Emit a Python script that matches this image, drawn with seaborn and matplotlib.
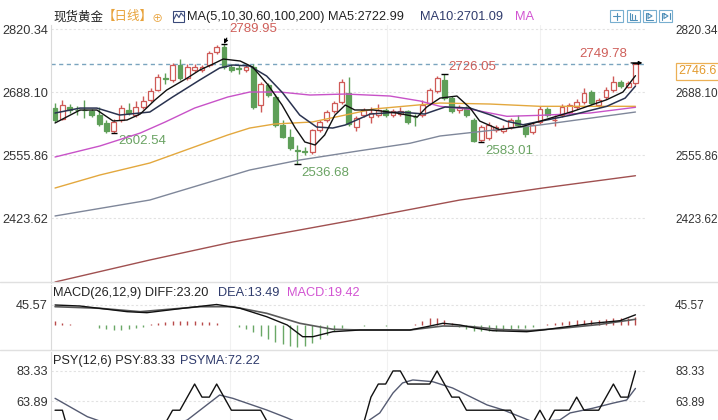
import numpy as np
import matplotlib
matplotlib.use("Agg")
import matplotlib.pyplot as plt
from matplotlib.lines import Line2D
from matplotlib.patches import Rectangle
import seaborn as sns

# ---------------- daily candles (spot gold) ----------------
opens = [2656, 2633, 2657, 2651, 2651, 2649, 2640, 2624, 2606, 2630,
         2651, 2640, 2658, 2672, 2693, 2719, 2714, 2745, 2718, 2735,
         2735, 2745, 2772, 2784, 2742, 2739, 2735, 2742, 2661, 2703,
         2679, 2620, 2595, 2568, 2565, 2563, 2609, 2630, 2649, 2668,
         2686, 2616, 2640, 2636, 2640, 2651, 2641, 2642, 2648, 2637,
         2640, 2665, 2690, 2714, 2676, 2651, 2655, 2630, 2587, 2592,
         2609, 2607, 2616, 2631, 2617, 2605, 2626, 2654, 2630, 2640,
         2647, 2658, 2668, 2689, 2662, 2679, 2693, 2710, 2700, 2707]
highs = [2666, 2672, 2664, 2660, 2672, 2654, 2658, 2630, 2632, 2661,
         2666, 2670, 2680, 2698, 2726, 2728, 2750, 2758, 2748, 2748,
         2746, 2775, 2788, 2789.95, 2748, 2745, 2746, 2748, 2710, 2708,
         2684, 2630, 2612, 2577, 2573, 2612, 2630, 2652, 2670, 2715,
         2720, 2638, 2656, 2657, 2663, 2655, 2653, 2657, 2652, 2643,
         2672, 2698, 2723, 2726.05, 2680, 2662, 2660, 2634, 2620, 2625,
         2620, 2620, 2634, 2640, 2620, 2624, 2660, 2658, 2641, 2663,
         2666, 2674, 2697, 2694, 2677, 2700, 2722, 2714, 2712, 2749.78]
lows = [2626, 2630, 2645, 2641, 2634, 2636, 2617, 2603, 2602.54, 2626,
        2640, 2636, 2654, 2668, 2690, 2705, 2710, 2714, 2714, 2730,
        2731, 2742, 2769, 2738, 2730, 2727, 2730, 2654, 2647, 2678,
        2616, 2592, 2567, 2536.68, 2556, 2559, 2605, 2626, 2645, 2664,
        2618, 2606, 2636, 2624, 2636, 2636, 2637, 2638, 2622, 2618,
        2636, 2661, 2686, 2672, 2644, 2645, 2636, 2584, 2583.01, 2588,
        2604, 2603, 2612, 2615, 2594, 2600, 2622, 2636, 2617, 2636,
        2643, 2654, 2664, 2661, 2658, 2675, 2689, 2697, 2697, 2703]
closes = [2630, 2661, 2651, 2650, 2650, 2640, 2621, 2606, 2626, 2656,
          2644, 2658, 2670, 2690, 2721, 2716, 2745, 2718, 2741, 2741,
          2741, 2770, 2784, 2742, 2735, 2738, 2741, 2658, 2705, 2682,
          2620, 2595, 2571, 2565, 2562, 2609, 2625, 2647, 2665, 2710,
          2622, 2634, 2651, 2645, 2651, 2641, 2648, 2648, 2626, 2636,
          2661, 2693, 2718, 2676, 2648, 2657, 2640, 2585, 2616, 2619,
          2616, 2614, 2630, 2619, 2600, 2619, 2654, 2640, 2631, 2658,
          2661, 2668, 2686, 2665, 2672, 2694, 2710, 2701, 2707, 2746.6]

# ---------------- moving averages (day position, value) ----------------
ma5_x = [0, 3.4, 5.7, 7.9, 9.8, 11.6, 13.6, 15.2, 18, 19.7, 21.5, 22.9, 25.2, 26.9,
         29, 30.9, 32.7, 34, 35.4, 36.7, 38.1, 39.5, 40.8, 43.3, 46.5, 49.3, 50.6,
         52.4, 54.7, 56.5, 57.8, 60.5, 63.7, 66, 70.5, 75.1, 77.3, 79]
ma5_v = [2623.7, 2650.9, 2650.9, 2627.9, 2630.0, 2642.6, 2672.0, 2692.9, 2718.1, 2734.9,
         2747.5, 2758.0, 2753.8, 2741.2, 2703.4, 2661.4, 2613.1, 2583.8, 2577.5, 2598.5,
         2640.4, 2661.4, 2651.0, 2651.0, 2644.6, 2636.3, 2657.3, 2676.0, 2680.3, 2655.1,
         2627.8, 2609.6, 2616.7, 2627.3, 2648.2, 2672.6, 2688.7, 2722.99]

ma10_x = [0, 3.4, 5.7, 8.8, 12.9, 16, 19.7, 22.4, 24.2, 26.5, 28.8, 31, 33.3, 35.6,
          37.8, 39.5, 42.9, 46.9, 50.3, 53.1, 56.5, 59.2, 61.5, 63.7, 66, 70.5, 75.1,
          77.6, 79]
ma10_v = [2644.6, 2655.0, 2655.0, 2640.4, 2646.7, 2678.2, 2714.0, 2739.1, 2745.4, 2743.3,
          2722.3, 2686.6, 2640.4, 2615.3, 2613.1, 2619.5, 2642.5, 2646.7, 2642.5, 2657.3,
          2655.0, 2641.0, 2627.2, 2620.0, 2627.2, 2641.0, 2658.7, 2676.0, 2701.09]

ma30_x = [0, 6.1, 11.6, 15, 19, 23.5, 26.5, 30.6, 34.7, 39.5, 45.6, 49.7, 52.4, 56.9,
          61.5, 66, 72.8, 79]
ma30_v = [2552.3, 2575.4, 2602.6, 2625.8, 2655.1, 2678.2, 2688.7, 2688.7, 2682.4, 2684.5,
          2680.3, 2669.8, 2658.7, 2651.6, 2637.7, 2639.8, 2644.6, 2656.6]

ma60_x = [0, 6.1, 12.9, 19.7, 23.5, 26.5, 29.9, 35, 39.5, 43.3, 52.4, 59.2, 66, 79]
ma60_v = [2487.2, 2514.5, 2539.7, 2577.5, 2598.5, 2613.1, 2621.6, 2625.8, 2640.4, 2653.0,
          2665.6, 2663.5, 2658.7, 2658.7]

ma100_x = [0, 12.9, 19.7, 26.5, 33.3, 41.5, 48.3, 52.4, 66, 79]
ma100_v = [2428.5, 2462.0, 2493.5, 2525.0, 2546.0, 2565.5, 2581.1, 2596.4, 2619.5, 2646.7]

ma200_x = [0, 12.9, 24.2, 33.3, 41.5, 55.1, 66.4, 79]
ma200_v = [2289.9, 2336.1, 2373.9, 2399.1, 2422.2, 2462.0, 2487.2, 2513.0]

# ---------------- MACD(26,12,9) ----------------
diff_x = [0, 3.4, 9.8, 12.5, 17.4, 22, 25.2, 28.8, 31.6, 33.7, 35.1, 37.8, 41.5, 45.6,
          48.3, 50.6, 52.8, 55.1, 57.4, 59.6, 64.2, 66.4, 69.7, 73.2, 76.9, 79]
diff_v = [44.5, 42.3, 30.0, 27.8, 37.3, 45.57, 37.3, 19.1, 1.1, -24.3, -24.3, -13.5, -9.8,
          -9.8, -9.8, -2.6, 4.8, 1.1, -6.1, -11.3, -13.5, -9.8, -2.6, 4.8, 10.4, 23.20]
dea_x = [0, 6.1, 11.6, 19.7, 24.2, 28.8, 33.3, 37.8, 41.5, 48.3, 52.8, 56.5, 60.5, 64.6,
         68.7, 74.1, 79]
dea_v = [40.8, 37.3, 30.0, 40.8, 40.8, 26.5, 4.8, -8.2, -9.8, -9.8, -1.1, -2.2, -8.7,
         -10.9, -6.5, 2.2, 13.49]
macd_hist = [10, 6, 4, 1, 1, 0.5, -6, -8, -10, -10,
             -8, -6, -3, 4, 6, 8, 9, 10, 10, 9,
             8, 8, 6, 2, 1, -3, -8, -15, -22, -29,
             -35, -41, -45, -47, -44, -38, -30, -21, -12, -5,
             2, 1, -1, 1, 1, -1, 1, 1, 2, 4,
             10, 16, 17, 12, 6, -3, -7, -11, -13, -13,
             -12, -10, -8, -6, -5, -3, 2, 4, 5, 7,
             9, 11, 13, 13, 13, 14, 16, 17, 17, 19.42]

# ---------------- PSY(12,6) ----------------
psy = [58.33, 58.33, 41.67, 41.67, 33.33, 33.33, 33.33, 25.0, 25.0, 33.33,
       33.33, 41.67, 41.67, 41.67, 41.67, 50.0, 58.33, 58.33, 66.67, 75.0,
       66.67, 66.67, 75.0, 66.67, 58.33, 58.33, 58.33, 58.33, 58.33, 50.0,
       41.67, 41.67, 33.33, 33.33, 33.33, 33.33, 41.67, 41.67, 41.67, 41.67,
       41.67, 41.67, 50.0, 66.67, 75.0, 75.0, 83.33, 83.33, 75.0, 75.0,
       75.0, 75.0, 83.33, 75.0, 66.67, 66.67, 58.33, 58.33, 58.33, 58.33,
       58.33, 58.33, 58.33, 50.0, 50.0, 50.0, 58.33, 50.0, 58.33, 58.33,
       58.33, 66.67, 58.33, 58.33, 58.33, 66.67, 75.0, 66.67, 66.67, 83.33]
psyma_x = [0, 4.4, 8.8, 14.3, 18, 22.4, 24.2, 28.8, 31.6, 36, 40.8, 44.2, 46, 47.3, 48.7,
           51.4, 54.1, 56.5, 58.8, 61, 63.3, 65, 68.7, 70.1, 73.2, 75.9, 77.8, 79]
psyma_v = [65.9, 54.2, 47.0, 45.7, 52.1, 68.0, 65.9, 58.5, 53.4, 44.4, 45.7, 56.6, 69.3,
           75.7, 77.6, 76.5, 72.5, 67.0, 61.7, 58.5, 54.2, 51.0, 52.1, 56.6, 59.6, 62.8,
           64.8, 72.22]

# axis ticks and marked extremes
price_ticks = [2820.34, 2688.10, 2555.86, 2423.62]
macd_ticks = [45.57]
psy_ticks = [83.33, 63.89]
period_marks = [23.8, 45.2, 66.0]
high_marks = [23, 53, 79]
low_marks = [8, 33, 58]

# ---------------- style ----------------
sns.set_theme(style="white")
plt.rcParams["font.family"] = ["Liberation Sans", "Noto Sans CJK SC", "DejaVu Sans"]
plt.rcParams["font.size"] = 9

UP, DOWN = "#cf5a57", "#5e9f58"
TXT = "#333333"
NAVY = "#2f3b6c"
MAGENTA = "#d254d2"

W, H = 718, 420
fig = plt.figure(figsize=(W / 100, H / 100), dpi=100)
fig.patch.set_facecolor("white")
X0, X1 = 51, 645


def px(x, y):
    return x / W, 1 - y / H


def panel(top, bottom):
    return fig.add_axes([X0 / W, 1 - bottom / H, (X1 - X0) / W, (bottom - top) / H])


ax = panel(25, 283)
axm = panel(285, 350)
axp = panel(352, 420)


def style(a, ticks, ylim):
    a.set_facecolor("white")
    a.set_xlim(-0.55, 80.3)
    a.set_ylim(*ylim)
    a.set_xticks([])
    a.set_xlabel("")
    a.set_ylabel("")
    labels = [f"{t:.2f}" for t in ticks]
    a.set_yticks(ticks)
    a.set_yticklabels(labels)
    a.tick_params(axis="y", length=0, pad=2.2, labelsize=9.2, labelcolor=TXT)
    for s in ("top", "right", "bottom"):
        a.spines[s].set_visible(False)
    a.spines["left"].set_color("#dadada")
    a.spines["left"].set_linewidth(0.8)
    a.set_axisbelow(True)
    a.grid(axis="y", color="#e2e2e2", ls=(0, (2, 2)), lw=0.8)
    for m in period_marks:
        a.axvline(m, color="#f1f1f1", lw=0.8, zorder=0)
    sec = a.secondary_yaxis("right")
    sec.set_yticks(ticks)
    sec.set_yticklabels(labels)
    sec.tick_params(length=0, pad=21.6, labelsize=8.5, labelcolor=TXT)
    sec.spines["right"].set_visible(False)


# ---------------- candles ----------------
o, h, l, c = (np.array(v, dtype=float) for v in (opens, highs, lows, closes))
idx = np.arange(len(c))
up = c >= o
edge = np.where(up, UP, DOWN)
ax.vlines(idx, l, h, colors=edge, lw=1, zorder=2)
ax.bar(idx, np.maximum(np.abs(c - o), 0.6), bottom=np.minimum(o, c), width=0.66,
       color=np.where(up, "white", DOWN), edgecolor=edge, linewidth=0.9, zorder=3)

# moving averages
for xs, vs, col, lw in [(ma200_x, ma200_v, "#a05050", 1.0),
                        (ma100_x, ma100_v, "#7f879a", 1.0),
                        (ma60_x, ma60_v, "#e3a83e", 1.0),
                        (ma30_x, ma30_v, "#c852c8", 1.0),
                        (ma10_x, ma10_v, "#2a3350", 1.1),
                        (ma5_x, ma5_v, "#111111", 1.0)]:
    sns.lineplot(x=xs, y=vs, ax=ax, color=col, linewidth=lw, legend=False,
                 sort=False, estimator=None, zorder=4)

# last price line and box
last = closes[-1]
ax.axhline(last, color="#7aa4be", ls=(0, (3, 2.5)), lw=1, zorder=1)
ax.annotate(f"{last:.1f}", xy=(1, last), xycoords=("axes fraction", "data"),
            xytext=(33, -1), textcoords="offset pixels", ha="left", va="top",
            color="#e39a2d", fontsize=9, annotation_clip=False,
            bbox=dict(boxstyle="square,pad=0.2", fc="white", ec="#ecb055", lw=0.9))

# extreme markers
label_offsets = {23: (5, 15), 53: (4, 7), 79: (-8, 9), 8: (4, -8), 33: (4, -9), 58: (4, -9)}
for i in high_marks:
    v = highs[i]
    ax.hlines(v, i - 0.45, i + 0.45, color="black", lw=1, zorder=5)
    dx, dy = label_offsets[i]
    if i == 23:
        ax.annotate(f"{v:.2f}", xy=(i, v), xytext=(dx, dy), textcoords="offset pixels",
                    ha="left", va="center", color="#cf5f5a", fontsize=9.5,
                    arrowprops=dict(arrowstyle="-|>", color="black", lw=0.8,
                                    mutation_scale=6, relpos=(0, 0.1),
                                    shrinkA=0, shrinkB=0))
    else:
        ax.annotate(f"{v:.2f}", xy=(i, v), xytext=(dx, dy), textcoords="offset pixels",
                    ha="right" if dx < 0 else "left", va="center",
                    color="#cf5f5a", fontsize=9.5)
    if i == len(highs) - 1:
        ax.annotate("", xy=(i + 0.95, v), xytext=(i - 0.6, v),
                    arrowprops=dict(arrowstyle="-|>", color="black", lw=0.9,
                                    mutation_scale=5, shrinkA=0, shrinkB=0))
for i in low_marks:
    v = lows[i]
    ax.hlines(v, i - 0.45, i + 0.45, color="black", lw=1, zorder=5)
    dx, dy = label_offsets[i]
    ax.annotate(f"{v:.2f}", xy=(i, v), xytext=(dx, dy), textcoords="offset pixels",
                ha="left", va="center", color="#6aa363", fontsize=9.5)

style(ax, price_ticks, (2287.8, 2829.4))

# ---------------- MACD panel ----------------
hist = np.array(macd_hist, dtype=float)
axm.vlines(idx, 0, hist, colors=np.where(hist >= 0, "#b84a4a", "#6aa866"), lw=1, zorder=2)
sns.lineplot(x=dea_x, y=dea_v, ax=axm, color="#5a5a5a", linewidth=1.2, legend=False,
             sort=False, estimator=None, zorder=3)
sns.lineplot(x=diff_x, y=diff_v, ax=axm, color="#111111", linewidth=1.0, legend=False,
             sort=False, estimator=None, zorder=4)
style(axm, macd_ticks, (-53.2, 87.9))

# ---------------- PSY panel ----------------
sns.lineplot(x=psyma_x, y=psyma_v, ax=axp, color="#555b72", linewidth=1.0, legend=False,
             sort=False, estimator=None)
sns.lineplot(x=idx, y=psy, ax=axp, color="#111111", linewidth=1.0, legend=False,
             sort=False, estimator=None)
style(axp, psy_ticks, (52.1, 95.4))

# panel separators
for yy in (282, 350):
    fig.add_artist(Line2D([0, 1], [1 - yy / H] * 2, color="#e0e0e0", lw=1,
                          transform=fig.transFigure))

# ---------------- headers ----------------
def head(x, y, s, color, size=9.2):
    fig.text(*px(x, y), s, color=color, fontsize=size, ha="left", va="center")


head(53, 17, "现货黄金", "#222222", 9)
head(103, 17, "【日线】", "#e8a23a", 9)
head(152, 18, "⊕", "#e8a23a", 8)
fig.add_artist(Rectangle(px(173, 22), 11 / W, 11 / H, fill=False, ec="#3a4a7a", lw=0.8,
                         transform=fig.transFigure))
zx = [174, 176.5, 179, 181, 183.5]
zy = [19, 14, 17.5, 13, 16]
fig.add_artist(Line2D([x / W for x in zx], [1 - y / H for y in zy], color="#3a4a7a",
                      lw=0.8, transform=fig.transFigure))
head(187, 17, f"MA(5,10,30,60,100,200) MA5:{ma5_v[-1]:.2f}", "#222222")
head(420, 17, f"MA10:{ma10_v[-1]:.2f}", NAVY)
head(515, 17, "MA", MAGENTA)

# toolbar buttons
for bx in (610, 627, 643, 659):
    fig.add_artist(Rectangle(px(bx, 22), 13 / W, 12 / H, fill=False, ec="#78afd0", lw=0.8,
                             transform=fig.transFigure))
segs = [([613, 620], [16, 16]), ([616.5, 616.5], [12.5, 19.5]),
        ([630, 630, 637], [12.5, 19.5, 19.5]), ([632, 632], [14, 19]), ([634.5, 634.5], [15, 19]),
        ([646, 646, 653], [12.5, 19.5, 19.5]), ([648, 652, 648, 648], [13.5, 16, 18.5, 13.5]),
        ([662, 662], [12.5, 19.5]), ([664, 668, 664, 664], [13.5, 16, 18.5, 13.5]),
        ([669.5, 669.5], [13, 19])]
for xs, ys in segs:
    fig.add_artist(Line2D([x / W for x in xs], [1 - y / H for y in ys], color="#4f8fb8",
                          lw=0.8, transform=fig.transFigure))

head(53, 293, f"MACD(26,12,9) DIFF:{diff_v[-1]:.2f}", "#222222")
head(218, 293, f"DEA:{dea_v[-1]:.2f}", NAVY)
head(287, 293, f"MACD:{macd_hist[-1]:.2f}", MAGENTA)

head(53, 361, f"PSY(12,6) PSY:{psy[-1]:.2f}", "#222222")
head(180, 361, f"PSYMA:{psyma_v[-1]:.2f}", NAVY)

fig.savefig("out.png", dpi=100, facecolor="white")
